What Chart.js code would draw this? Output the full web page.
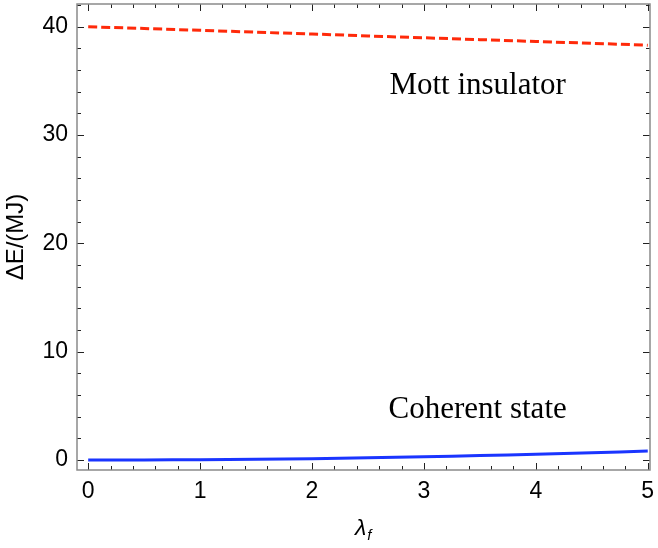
<!DOCTYPE html>
<html>
<head>
<meta charset="utf-8">
<script src="https://cdn.jsdelivr.net/npm/chart.js@4/dist/chart.umd.min.js"></script>
<style>
  html, body { margin: 0; padding: 0; background: #fff; }
  #wrap { width: 658px; height: 548px; position: relative; }
</style>
</head>
<body>
<div id="wrap"><canvas id="chart"></canvas></div>
<script>
// values
const lambdaF = [0, 0.5, 1, 1.5, 2, 2.5, 3, 3.5, 4, 4.5, 5];
const mottGap = [40, 39.84, 39.67, 39.5, 39.33, 39.15, 38.98, 38.81, 38.64, 38.47, 38.3];
const coherentGap = [0, 0.01, 0.03, 0.07, 0.13, 0.21, 0.3, 0.41, 0.53, 0.67, 0.83];

const xTicks = [0, 1, 2, 3, 4, 5];
const yTicks = [0, 10, 20, 30, 40];
const xMinorStep = 0.2;
const yMinorStep = 2;

const labels = [
    { text: 'Mott insulator', x: 3.48, y: 34.5 },
    { text: 'Coherent state', x: 3.48, y: 4.6 }
];

const FRAME = '#8a8a8a';
const SANS = "'Liberation Sans', Arial, sans-serif";
const SERIF = "'Liberation Serif', 'Times New Roman', serif";

function pts(xs, ys) {
    return xs.map((x, i) => ({ x: x, y: ys[i] }));
}

// frame with inward ticks on all four sides, like a Mathematica frame
const framePlugin = {
    id: 'frame',
    afterDraw(chart) {
        const ctx = chart.ctx;
        const a = chart.chartArea;
        const xs = chart.scales.x, ys = chart.scales.y;
        ctx.save();
        ctx.strokeStyle = '#222';
        ctx.lineWidth = 1;
        // x ticks
        for (let v = 0; v <= 5.0001; v += xMinorStep) {
            const major = Math.abs(v - Math.round(v)) < 1e-6;
            const len = major ? 7 : 4;
            const px = Math.round(xs.getPixelForValue(v)) + 0.5;
            ctx.beginPath();
            ctx.moveTo(px, a.bottom); ctx.lineTo(px, a.bottom - len);
            ctx.moveTo(px, a.top); ctx.lineTo(px, a.top + len);
            ctx.stroke();
        }
        // y ticks
        for (let v = 0; v <= 42; v += yMinorStep) {
            const major = v % 10 === 0;
            const len = major ? 7 : 4;
            const py = Math.round(ys.getPixelForValue(v)) + 0.5;
            ctx.beginPath();
            ctx.moveTo(a.left, py); ctx.lineTo(a.left + len, py);
            ctx.moveTo(a.right, py); ctx.lineTo(a.right - len, py);
            ctx.stroke();
        }
        ctx.strokeStyle = FRAME;
        ctx.lineWidth = 1.5;
        ctx.strokeRect(a.left, a.top, a.right - a.left, a.bottom - a.top);

        // x axis title: lambda with subscript f
        ctx.fillStyle = '#000';
        ctx.textBaseline = 'alphabetic';
        ctx.textAlign = 'left';
        ctx.font = 'italic 23px ' + SANS;
        ctx.fillText('λ', 355, 535);
        const w = ctx.measureText('λ').width;
        ctx.font = 'italic 15px ' + SANS;
        ctx.fillText('f', 355 + w + 1, 540);

        // in-plot annotations
        ctx.font = '31px ' + SERIF;
        ctx.textAlign = 'center';
        ctx.textBaseline = 'middle';
        labels.forEach(l => {
            ctx.fillText(l.text, xs.getPixelForValue(l.x), ys.getPixelForValue(l.y));
        });
        ctx.restore();
    }
};

new Chart(document.getElementById('chart'), {
    type: 'line',
    data: {
        datasets: [
            {
                label: 'Mott insulator',
                data: pts(lambdaF, mottGap),
                borderColor: '#ff2a0a',
                borderWidth: 3,
                borderDash: [9, 4],
                pointRadius: 0,
                tension: 0
            },
            {
                label: 'Coherent state',
                data: pts(lambdaF, coherentGap),
                borderColor: '#1a35ff',
                borderWidth: 3,
                pointRadius: 0,
                tension: 0.4
            }
        ]
    },
    options: {
        responsive: true,
        maintainAspectRatio: false,
        animation: false,
        layout: { padding: { top: 4, right: 8, left: 0, bottom: 0 } },
        plugins: {
            legend: { display: false },
            tooltip: { enabled: false }
        },
        scales: {
            x: {
                type: 'linear',
                min: -0.1,
                max: 5.02,
                grid: { display: false, drawTicks: false },
                border: { display: false },
                afterBuildTicks: s => { s.ticks = xTicks.map(v => ({ value: v })); },
                afterFit: s => { s.height = 78; s.paddingLeft = 0; s.paddingRight = 0; },
                ticks: {
                    color: '#000',
                    padding: 8,
                    maxRotation: 0,
                    font: { family: SANS, size: 23 }
                }
            },
            y: {
                type: 'linear',
                min: -0.92,
                max: 42.1,
                grid: { display: false, drawTicks: false },
                border: { display: false },
                afterBuildTicks: s => { s.ticks = yTicks.map(v => ({ value: v })); },
                afterFit: s => { s.width = 77; s.paddingTop = 0; s.paddingBottom = 0; },
                ticks: {
                    color: '#000',
                    padding: 9,
                    font: { family: SANS, size: 23 }
                },
                title: {
                    display: true,
                    text: 'ΔE/(MJ)',
                    color: '#000',
                    padding: { top: 2, bottom: 0 },
                    font: { family: SANS, size: 24 }
                }
            }
        }
    },
    plugins: [framePlugin]
});
</script>
</body>
</html>
